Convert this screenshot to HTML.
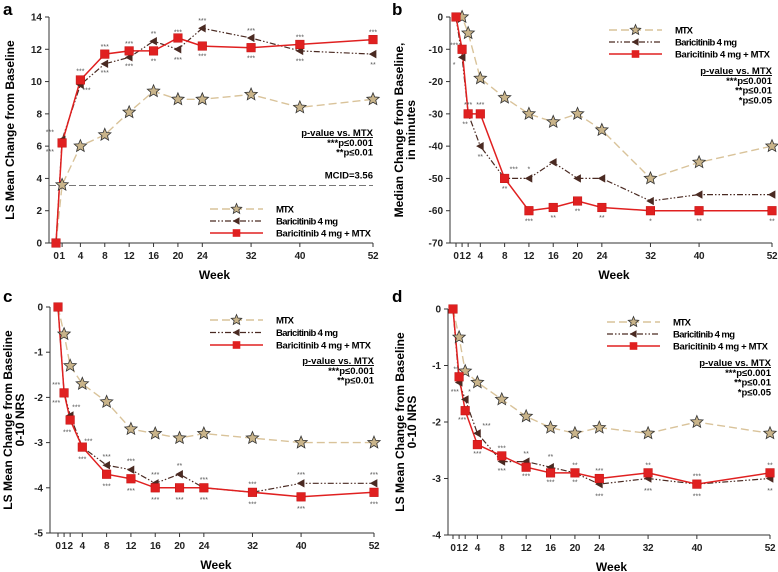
<!DOCTYPE html>
<html><head><meta charset="utf-8"><style>
html,body{margin:0;padding:0;background:#fff;}
svg{display:block;font-family:"Liberation Sans",Arial,sans-serif;}
</style></head><body>
<svg id="fig" width="778" height="572" viewBox="0 0 778 572" xmlns="http://www.w3.org/2000/svg"></svg>
<script>
// ---------- shared ----------
const weeksA = [0,1,4,8,12,16,20,24,32,40,52];
const weeksB = [0,1,2,4,8,12,16,20,24,32,40,52];
const tickWeeksA = [0,1,4,8,12,16,20,24,32,40,52];
const tickWeeksB = [0,1,2,4,8,12,16,20,24,32,40,52];

// Panel a
const aMtx   = [0,3.6,6.0,6.7,8.1,9.4,8.9,8.9,9.2,8.4,8.9];
const aBari  = [0,6.4,9.8,11.1,11.5,12.5,12.0,13.3,12.7,11.9,11.7];
const aCombo = [0,6.2,10.1,11.7,11.9,11.9,12.7,12.2,12.1,12.3,12.6];
const aYTicks = [0,2,4,6,8,10,12,14];
const aMcid = 3.56;
// Panel b
const bMtx   = [0,0,-5,-19,-25,-30,-32.5,-30,-35,-50,-45,-40];
const bBari  = [0,-12.5,-30,-40,-50,-50,-45,-50,-50,-57,-55,-55];
const bCombo = [0,-10,-30,-30,-50,-60,-59,-57,-59,-60,-60,-60];
const bYTicks = [0,-10,-20,-30,-40,-50,-60,-70];
// Panel c
const cMtx   = [0,-0.6,-1.3,-1.7,-2.1,-2.7,-2.8,-2.9,-2.8,-2.9,-3.0,-3.0];
const cBari  = [0,-1.9,-2.4,-3.1,-3.5,-3.6,-3.9,-3.7,-4.0,-4.1,-3.9,-3.9];
const cCombo = [0,-1.9,-2.5,-3.1,-3.7,-3.8,-4.0,-4.0,-4.0,-4.1,-4.2,-4.1];
const cYTicks = [0,-1,-2,-3,-4,-5];
// Panel d
const dMtx   = [0,-0.5,-1.1,-1.3,-1.6,-1.9,-2.1,-2.2,-2.1,-2.2,-2.0,-2.2];
const dBari  = [0,-1.3,-1.6,-2.2,-2.7,-2.7,-2.8,-2.9,-3.1,-3.0,-3.1,-3.0];
const dCombo = [0,-1.2,-1.8,-2.4,-2.6,-2.8,-2.9,-2.9,-3.0,-2.9,-3.1,-2.9];
const dYTicks = [0,-1,-2,-3,-4];

// significance annotations [week, value, text]
const aSig = [[-1,6.9,"***"],[-1,5.7,"***"],[4,10.7,"***"],[5,9.5,"***"],[8,12.2,"***"],[8,10.6,"***"],[12,12.4,"***"],[12,11.0,"***"],[16,13.0,"**"],[16,11.3,"**"],[20,13.1,"***"],[20,11.4,"***"],[24,13.8,"***"],[24,11.6,"***"],[32,13.2,"***"],[32,11.5,"***"],[40,12.8,"***"],[40,11.3,"***"],[52,13.1,"***"],[52,11.1,"**"]];
const bSig = [[-0.3,-8.5,"***"],[-0.3,-14.5,"*"],[2,-27,"***"],[1.5,-33,"**"],[4,-27,"***"],[4,-43,"**"],[9.5,-47,"***"],[8,-53,"**"],[12,-47,"*"],[12,-63,"***"],[16,-62,"**"],[20,-60,"**"],[24,-62,"**"],[32,-63,"*"],[40,-63,"**"],[52,-63,"**"]];
const cSig = [[-0.3,-1.7,"***"],[-0.3,-2.1,"***"],[3,-2.2,"***"],[1.5,-2.75,"***"],[5,-2.95,"***"],[4,-3.35,"***"],[8,-3.3,"***"],[8,-3.95,"***"],[12,-3.4,"***"],[12,-4.05,"***"],[16,-3.7,"***"],[16,-4.25,"***"],[20,-3.5,"**"],[20,-4.25,"***"],[24,-3.8,"***"],[24,-4.25,"***"],[32,-3.9,"***"],[32,-4.35,"***"],[40,-3.7,"***"],[40,-4.45,"***"],[52,-3.7,"***"],[52,-4.35,"***"]];
const dSig = [[0.5,-1.05,"**"],[0.3,-1.45,"***"],[2.7,-1.45,"*"],[1.5,-1.95,"***"],[5.5,-2.05,"***"],[4,-2.55,"***"],[8,-2.45,"***"],[8,-2.85,"***"],[12,-2.55,"**"],[12,-2.95,"***"],[16,-2.6,"**"],[16,-3.05,"***"],[20,-2.75,"**"],[20,-3.05,"**"],[24,-2.85,"***"],[24,-3.3,"***"],[32,-2.75,"**"],[32,-3.2,"***"],[40,-2.95,"***"],[40,-3.3,"***"],[52,-2.75,"**"],[52,-3.2,"**"]];

const NS="http://www.w3.org/2000/svg";
const svg=document.getElementById('fig');
function el(tag,attrs,parent){const e=document.createElementNS(NS,tag);for(const k in attrs)e.setAttribute(k,attrs[k]);(parent||svg).appendChild(e);return e;}
function txt(s,attrs,parent){const e=el('text',attrs,parent);e.textContent=s;return e;}
function starPath(cx,cy,R){const r=R*0.45;let d='';for(let i=0;i<10;i++){const a=-Math.PI/2+i*Math.PI/5;const rr=i%2?r:R;d+=(i?'L':'M')+(cx+rr*Math.cos(a)).toFixed(2)+','+(cy+rr*Math.sin(a)).toFixed(2);}return d+'Z';}
function tri(cx,cy,s){return `M${cx-s},${cy}L${cx+s*0.8},${cy-s}L${cx+s*0.8},${cy+s}Z`;}

function panel(cfg){
  const g=el('g',{});
  
  
  const xs=w=>cfg.x0+(w/52)*(cfg.x1-cfg.x0);
  const ys=v=>cfg.yTop+(cfg.yMax-v)/(cfg.yMax-cfg.yMin)*(cfg.yBot-cfg.yTop);
  const L=txt(cfg.id,{x:cfg.letterX,y:cfg.letterY,'font-size':17,'font-weight':'bold'},g);
  
  const ax=el('g',{stroke:'#333','stroke-width':1},g);
  
  el('line',{x1:cfg.axX,y1:cfg.yTop,x2:cfg.axX,y2:cfg.yBot},ax);
  el('line',{x1:cfg.axX,y1:cfg.yBot,x2:cfg.x1,y2:cfg.yBot},ax);
  cfg.yTicks.forEach(v=>{
    el('line',{x1:cfg.axX-4,y1:ys(v),x2:cfg.axX,y2:ys(v)},ax);
    const t=txt(String(v),{x:cfg.axX-7,y:ys(v)+3.5,'font-size':10,'font-weight':'bold','text-anchor':'end',fill:'#222'},g);
    
  });
  cfg.xTicks.forEach(w=>{
    el('line',{x1:xs(w),y1:cfg.yBot,x2:xs(w),y2:cfg.yBot+4},ax);
    const t=txt(String(w),{x:xs(w),y:cfg.yBot+16,'font-size':10,'font-weight':'bold','text-anchor':'middle',fill:'#222','letter-spacing':'-0.3'},g);
    
  });
  const xt=txt('Week',{x:(cfg.x0+cfg.x1)/2,y:cfg.yBot+36,'font-size':12,'font-weight':'bold','text-anchor':'middle'},g);
  
  const cy=(cfg.yTop+cfg.yBot)/2;
  cfg.yTitle.forEach((s,i)=>{
    const xx=cfg.yTitleX+i*12;
    const t=txt(s,{x:xx,y:cy,'font-size':12,'font-weight':'bold','text-anchor':'middle',transform:`rotate(-90 ${xx} ${cy})`},g);
    
  });
  if(cfg.mcid!==undefined){
    const m=el('line',{x1:cfg.axX,y1:ys(cfg.mcid),x2:cfg.x1,y2:ys(cfg.mcid),stroke:'#777','stroke-width':1,'stroke-dasharray':'7,3'},g);
    
    const t=txt('MCID=3.56',{x:cfg.x1,y:ys(cfg.mcid)-7,'font-size':9.5,'font-weight':'bold','text-anchor':'end'},g);
    
  }
  const ptsStr=(arr)=>arr.map((v,i)=>xs(cfg.weeks[i]).toFixed(1)+','+ys(v).toFixed(1)).join(' ');
  const sM=el('polyline',{points:ptsStr(cfg.mtx),fill:'none',stroke:'#d9c39a','stroke-width':1.4,'stroke-dasharray':'8,4'},g);
  
  const sB=el('polyline',{points:ptsStr(cfg.bari),fill:'none',stroke:'#4a2a22','stroke-width':1.2,'stroke-dasharray':'6,2,1.5,2,1.5,2'},g);
  
  const sC=el('polyline',{points:ptsStr(cfg.combo),fill:'none',stroke:'#e02020','stroke-width':1.5},g);
  
  cfg.mtx.forEach((v,i)=>{
    if(cfg.weeks[i]===0)return;
    const p=el('path',{d:starPath(xs(cfg.weeks[i]),ys(v),6.5),fill:'#c9b48a',stroke:'#333','stroke-width':0.8},g);
    
  });
  cfg.bari.forEach((v,i)=>{
    if(cfg.weeks[i]===0)return;
    const p=el('path',{d:tri(xs(cfg.weeks[i]),ys(v),4.2),fill:'#4a2a22'},g);
    
  });
  cfg.combo.forEach((v,i)=>{
    const p=el('rect',{x:xs(cfg.weeks[i])-4.3,y:ys(v)-4.3,width:8.6,height:8.6,fill:'#e02020',stroke:'#c01010','stroke-width':0.5},g);
    
  });
  cfg.sig.forEach(s=>{
    const t=txt(s[2],{x:xs(s[0]),y:ys(s[1])+3,'font-size':7,'text-anchor':'middle',fill:'#555'},g);
    
  });
  const lg=el('g',{},g);
  
  const lx0=cfg.legX, lx1=cfg.legX+53, tx=cfg.legX+66;
  const items=[
    ['MTX',{stroke:'#d9c39a','stroke-width':1.4,'stroke-dasharray':'8,4'},'mtx',18],
    ['Baricitinib 4 mg',{stroke:'#4a2a22','stroke-width':1.2,'stroke-dasharray':'6,2,1.5,2,1.5,2'},'bari',62],
    ['Baricitinib 4 mg + MTX',{stroke:'#e02020','stroke-width':1.5},'combo',95]];
  items.forEach((it,i)=>{
    const yy=cfg.legY+i*cfg.legDy;
    const e=el('g',{},lg);
    
    el('line',Object.assign({x1:lx0,y1:yy,x2:lx1,y2:yy},it[1]),e);
    const mx=(lx0+lx1)/2;
    if(it[2]==='mtx')el('path',{d:starPath(mx,yy,5.5),fill:'#c9b48a',stroke:'#333','stroke-width':0.8},e);
    else if(it[2]==='bari')el('path',{d:tri(mx,yy,3.8),fill:'#4a2a22'},e);
    else el('rect',{x:mx-3.8,y:yy-3.8,width:7.6,height:7.6,fill:'#e02020'},e);
    txt(it[0],{x:tx,y:yy+3.5,'font-size':9.5,'font-weight':'bold',textLength:it[3],lengthAdjust:'spacing'},e);
  });
  const pv=el('g',{'font-size':9.5,'font-weight':'bold','text-anchor':'end'},g);
  
  const lines=['p-value vs. MTX','***p\u22640.001','**p\u22640.01','*p\u22640.05'].slice(0,cfg.pLines);
  lines.forEach((s,i)=>{
    const t=txt(s,{x:cfg.pX,y:cfg.pY+i*9.8},pv);
    if(i===0)t.setAttribute('text-decoration','underline');
  });
}

panel({id:'a',letterX:3,letterY:15,axX:49,x0:56,x1:373,yTop:17,yBot:243,yMax:14,yMin:0,
  yTicks:aYTicks,xTicks:tickWeeksA,weeks:weeksA,mtx:aMtx,bari:aBari,combo:aCombo,sig:aSig,mcid:aMcid,
  yTitle:['LS Mean Change from Baseline'],yTitleX:14,legX:210,legY:209,legDy:12,pX:373,pY:136,pLines:3});
panel({id:'b',letterX:392,letterY:15,axX:450,x0:456,x1:772,yTop:17,yBot:243,yMax:0,yMin:-70,
  yTicks:bYTicks,xTicks:tickWeeksB,weeks:weeksB,mtx:bMtx,bari:bBari,combo:bCombo,sig:bSig,
  yTitle:['Median Change from Baseline,','in minutes'],yTitleX:403,legX:609,legY:30,legDy:12,pX:772,pY:74,pLines:4});
panel({id:'c',letterX:3,letterY:302,axX:50,x0:58,x1:374,yTop:307,yBot:533,yMax:0,yMin:-5,
  yTicks:cYTicks,xTicks:tickWeeksB,weeks:weeksB,mtx:cMtx,bari:cBari,combo:cCombo,sig:cSig,
  yTitle:['LS Mean Change from Baseline','0-10 NRS'],yTitleX:12,legX:210,legY:320,legDy:12.5,pX:374,pY:364,pLines:3});
panel({id:'d',letterX:392,letterY:302,axX:448,x0:453,x1:770,yTop:309,yBot:535,yMax:0,yMin:-4,
  yTicks:dYTicks,xTicks:tickWeeksB,weeks:weeksB,mtx:dMtx,bari:dBari,combo:dCombo,sig:dSig,
  yTitle:['LS Mean Change from Baseline','0-10 NRS'],yTitleX:404,legX:607,legY:322,legDy:12,pX:771,pY:366,pLines:4});
</script>
</body></html>
